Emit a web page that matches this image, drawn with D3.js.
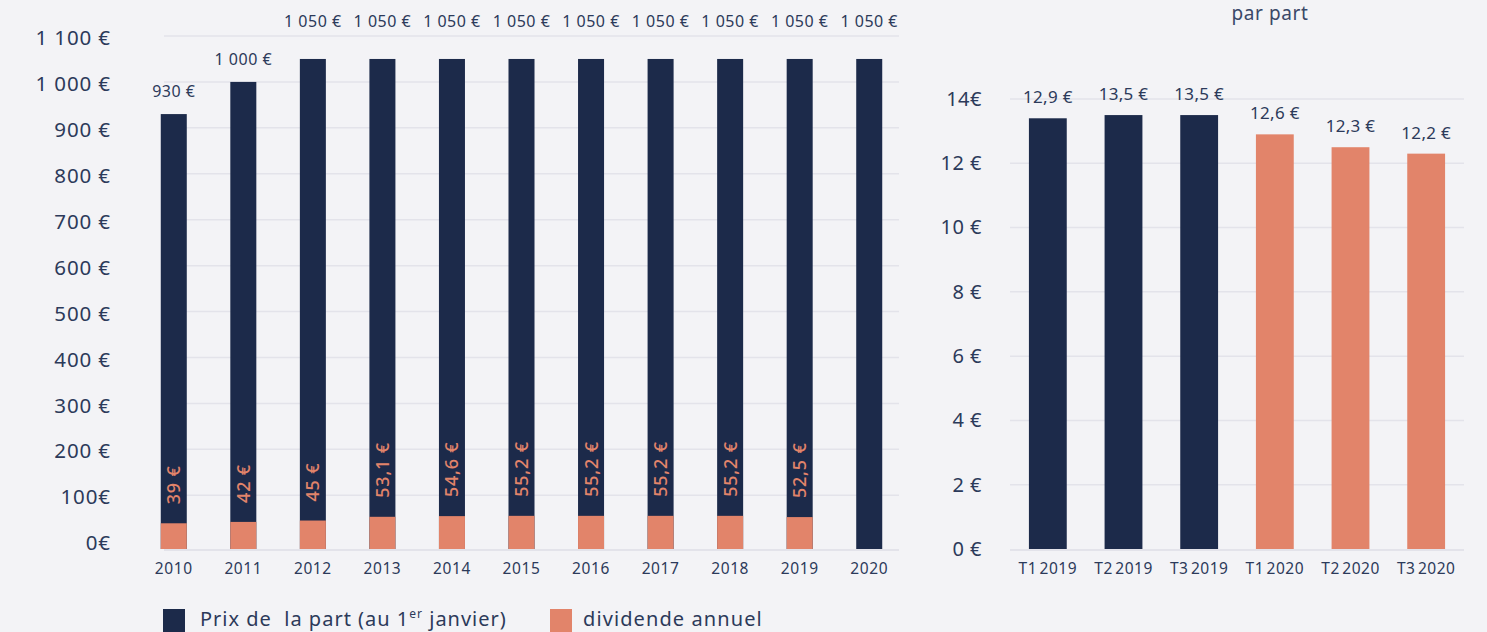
<!DOCTYPE html>
<html><head><meta charset="utf-8">
<script src="https://cdn.jsdelivr.net/npm/d3@7"></script>
<style>
html,body{margin:0;padding:0;background:#f3f3f6;}
svg{display:block;font-family:"Noto Sans",sans-serif;}
</style></head>
<body>
<svg id="chart" width="1487" height="632"></svg>
<script>
// ---- Data ----
const years = ["2010","2011","2012","2013","2014","2015","2016","2017","2018","2019","2020"];
const prices = [930,1000,1050,1050,1050,1050,1050,1050,1050,1050,1050];
const priceLabels = ["930 €","1 000 €","1 050 €","1 050 €","1 050 €","1 050 €","1 050 €","1 050 €","1 050 €","1 050 €","1 050 €"];
const dividends = [39,42,45,53.1,54.6,55.2,55.2,55.2,55.2,52.5,null];
const dividendLabels = ["39 €","42 €","45 €","53,1 €","54,6 €","55,2 €","55,2 €","55,2 €","55,2 €","52,5 €",""];
const leftTicks = [0,100,200,300,400,500,600,700,800,900,1000,1100];
const leftTickLabels = ["0€","100€","200 €","300 €","400 €","500 €","600 €","700 €","800 €","900 €","1 000 €","1 100 €"];

const quarters = ["T1 2019","T2 2019","T3 2019","T1 2020","T2 2020","T3 2020"];
const quarterValues = [13.4,13.5,13.5,12.9,12.5,12.3];
const quarterLabels = ["12,9 €","13,5 €","13,5 €","12,6 €","12,3 €","12,2 €"];
const quarterYears = ["2019","2019","2019","2020","2020","2020"];
const rightTicks = [0,2,4,6,8,10,12,14];
const rightTickLabels = ["0 €","2 €","4 €","6 €","8 €","10 €","12 €","14€"];
const rightTitle = "par part";
const legendItems = ["price","dividend"];

// ---- Style ----
const NAVY = "#1c2a4a", ORANGE = "#e2846a", GRID = "#e3e3ea", TEXT = "#2c3a5a";

const svg = d3.select("#chart");

// ================= LEFT CHART =================
const xL = d3.scaleBand().domain(years).range([139, 904]).paddingInner(0.626).paddingOuter(0.313);
const yL = d3.scaleLinear().domain([-17, 1100]).range([549, 36]);
const baseL = yL.range()[0];

const gL = svg.append("g");
gL.append("g").selectAll("line").data(leftTicks.filter(d => d > 0)).join("line")
  .attr("x1", 164).attr("x2", 899)
  .attr("y1", d => yL(d)).attr("y2", d => yL(d))
  .attr("stroke", GRID).attr("stroke-width", 1.5);
gL.append("line").attr("x1", 164).attr("x2", 899).attr("y1", baseL + 1).attr("y2", baseL + 1)
  .attr("stroke", GRID).attr("stroke-width", 2);

const axL = gL.append("g").attr("transform", "translate(111,0)")
  .call(d3.axisLeft(yL).tickValues(leftTicks).tickSize(0).tickPadding(0)
    .tickFormat((d, i) => leftTickLabels[i]));
axL.select(".domain").remove();
axL.selectAll("text").attr("fill", TEXT).attr("dy", "0.42em")
  .style("font-size", "20.5px").style("letter-spacing", "0.9px").style("font-family", "Noto Sans");

const axXL = gL.append("g").attr("transform", `translate(0,${baseL})`)
  .call(d3.axisBottom(xL).tickSize(0).tickPadding(14));
axXL.select(".domain").remove();
axXL.selectAll("text").attr("fill", TEXT).style("font-size", "15.5px").style("letter-spacing", "0.6px")
  .style("font-family", "Noto Sans");

gL.append("g").selectAll("rect").data(years).join("rect")
  .attr("x", d => xL(d)).attr("width", xL.bandwidth())
  .attr("y", (d, i) => yL(prices[i])).attr("height", (d, i) => baseL - yL(prices[i]))
  .attr("fill", NAVY);
gL.append("g").selectAll("rect").data(years.filter((d, i) => dividends[i] != null)).join("rect")
  .attr("x", d => xL(d)).attr("width", xL.bandwidth())
  .attr("y", (d) => yL(dividends[years.indexOf(d)]))
  .attr("height", d => baseL - yL(dividends[years.indexOf(d)]))
  .attr("fill", ORANGE);

const topY = yL(1100);
gL.append("g").selectAll("text").data(years).join("text")
  .attr("x", d => xL(d) + xL.bandwidth() / 2)
  .attr("y", (d, i) => { const b = yL(prices[i]) - 17; return b < topY + 10 ? topY - 9 : b; })
  .attr("text-anchor", "middle").attr("fill", TEXT).style("font-size", "16px").style("letter-spacing", "0.5px")
  .text((d, i) => priceLabels[i]);

gL.append("g").selectAll("text").data(years.filter((d, i) => dividends[i] != null)).join("text")
  .attr("transform", d => `translate(${xL(d) + xL.bandwidth() / 2},${yL(dividends[years.indexOf(d)]) - 19}) rotate(-90)`)
  .attr("dy", "0.36em").attr("text-anchor", "start")
  .attr("fill", ORANGE).style("font-size", "18px").style("font-weight", "500").style("letter-spacing", "0.8px")
  .text(d => dividendLabels[years.indexOf(d)]);

// legend
const legend = svg.append("g");
const legendX = { price: 163, dividend: 550 };
legendItems.forEach(k => {
  legend.append("rect").attr("x", legendX[k]).attr("y", 609).attr("width", 22).attr("height", 23)
    .attr("fill", k === "price" ? NAVY : ORANGE);
});
const lt = legend.append("text").attr("x", 200).attr("y", 626).attr("fill", TEXT)
  .style("font-size", "20px").style("letter-spacing", "1px").style("white-space", "pre");
lt.append("tspan").text("Prix de  la part (au 1");
lt.append("tspan").attr("dy", -8).style("font-size", "12px").text("er");
lt.append("tspan").attr("dy", 8).text(" janvier)");
legend.append("text").attr("x", 583).attr("y", 626).attr("fill", TEXT)
  .style("font-size", "20px").style("letter-spacing", "1.1px").text("dividende annuel");

// ================= RIGHT CHART =================
const xR = d3.scaleBand().domain(quarters).range([1010, 1464]).paddingInner(0.5).paddingOuter(0.25);
const yR = d3.scaleLinear().domain([0, 14]).range([549, 99]);
const gR = svg.append("g");

gR.append("g").selectAll("line").data(rightTicks).join("line")
  .attr("x1", 1010).attr("x2", 1464)
  .attr("y1", d => yR(d) + (d === 0 ? 1 : 0)).attr("y2", d => yR(d) + (d === 0 ? 1 : 0))
  .attr("stroke", GRID).attr("stroke-width", d => d === 0 ? 2 : 1.5);

const axR = gR.append("g").attr("transform", "translate(982,0)")
  .call(d3.axisLeft(yR).tickValues(rightTicks).tickSize(0).tickPadding(0)
    .tickFormat((d, i) => rightTickLabels[i]));
axR.select(".domain").remove();
axR.selectAll("text").attr("fill", TEXT).style("font-size", "20px").style("letter-spacing", "0.5px")
  .style("font-family", "Noto Sans");

const axXR = gR.append("g").attr("transform", `translate(0,${yR(0)})`)
  .call(d3.axisBottom(xR).tickSize(0).tickPadding(14));
axXR.select(".domain").remove();
axXR.selectAll("text").attr("fill", TEXT).style("font-size", "15.5px").style("word-spacing", "-2px")
  .style("letter-spacing", "0.5px").style("font-family", "Noto Sans");

gR.append("g").selectAll("rect").data(quarters).join("rect")
  .attr("x", d => xR(d)).attr("width", xR.bandwidth())
  .attr("y", (d, i) => yR(quarterValues[i])).attr("height", (d, i) => yR(0) - yR(quarterValues[i]))
  .attr("fill", (d, i) => quarterYears[i] === "2019" ? NAVY : ORANGE);

gR.append("g").selectAll("text").data(quarters).join("text")
  .attr("x", d => xR(d) + xR.bandwidth() / 2)
  .attr("y", (d, i) => yR(quarterValues[i]) - 15)
  .attr("text-anchor", "middle").attr("fill", TEXT).style("font-size", "17px").style("letter-spacing", "0.3px")
  .text((d, i) => quarterLabels[i]);

svg.append("text").attr("x", 1270).attr("y", 20).attr("text-anchor", "middle")
  .attr("fill", "#3a4868").style("font-size", "19px").style("letter-spacing", "0.6px").text(rightTitle);
</script>
</body></html>
